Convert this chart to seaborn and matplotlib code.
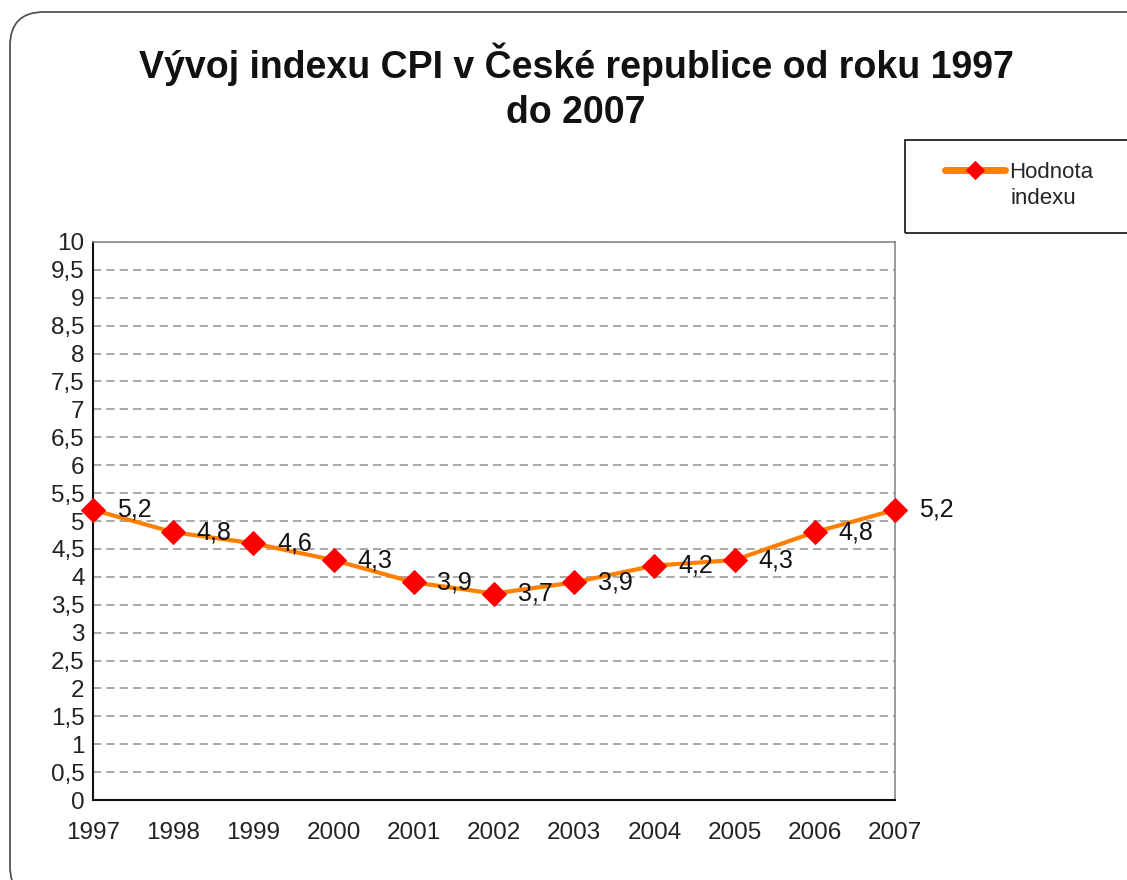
import numpy as np
import pandas as pd
import matplotlib
matplotlib.use('Agg')
import matplotlib.pyplot as plt
from matplotlib.patches import FancyBboxPatch, Rectangle
from matplotlib.ticker import FuncFormatter
import seaborn as sns

# data
years = [1997, 1998, 1999, 2000, 2001, 2002, 2003, 2004, 2005, 2006, 2007]
cpi = [5.2, 4.8, 4.6, 4.3, 3.9, 3.7, 3.9, 4.2, 4.3, 4.8, 5.2]
series_name = 'Hodnota'
series_name2 = 'indexu'
title = 'Vývoj indexu CPI v České republice od roku 1997\ndo 2007'

df = pd.DataFrame({'rok': years, 'cpi': cpi})

sns.set_style('white')
plt.rcParams['font.family'] = ['Liberation Sans', 'DejaVu Sans']

fig = plt.figure(figsize=(11.27, 8.8), dpi=100)
ax = fig.add_axes([93 / 1127, 1 - 800 / 880, (895 - 93) / 1127, (800 - 242) / 880])

# rounded chart frame
frame = FancyBboxPatch((10 / 1127, -20 / 880), 1.2, (880 - 12 + 20) / 880,
                       boxstyle='round,pad=0,rounding_size=0.03',
                       transform=fig.transFigure, fill=False,
                       edgecolor='#555555', linewidth=1.3, mutation_aspect=1127 / 880)
fig.patches.append(frame)

sns.lineplot(data=df, x='rok', y='cpi', ax=ax, color='#FF8000', linewidth=3,
             marker='D', markersize=12, markerfacecolor='#FF0000',
             markeredgecolor='#FF0000', clip_on=False, zorder=5,
             label=series_name, legend=False)

for x, y in zip(years, cpi):
    ax.annotate(f'{y:.1f}'.replace('.', ','), (x, y), xytext=(17, 0),
                textcoords='offset points', ha='left', va='center',
                fontsize=18, color='#111111', zorder=6)

ax.set_xlim(years[0], years[-1])
ax.set_ylim(0, 10)
ax.set_xticks(years)
ax.set_yticks(np.arange(0, 10.01, 0.5))
ax.yaxis.set_major_formatter(FuncFormatter(lambda v, p: f'{v:g}'.replace('.', ',')))
ax.tick_params(axis='y', direction='inout', length=8, width=1.2, labelsize=17.5, pad=2, colors='black')
ax.tick_params(axis='x', direction='out', length=6, width=1.2, labelsize=17.5, pad=10, colors='black')
for t in ax.get_yticklabels() + ax.get_xticklabels():
    t.set_color('#222222')

ax.yaxis.grid(True, linestyle=(0, (5, 3)), color='#9a9a9a', linewidth=1.2)
ax.set_axisbelow(True)
ax.set_xlabel('')
ax.set_ylabel('')
for side in ['left', 'bottom']:
    ax.spines[side].set_color('#111111')
    ax.spines[side].set_linewidth(1.5)
for side in ['top', 'right']:
    ax.spines[side].set_color('#8a8a8a')
    ax.spines[side].set_linewidth(1.2)

fig.text(576 / 1127, 1 - 43 / 880, title, ha='center', va='top',
         fontsize=27, fontweight='bold', linespacing=1.3, color='#111111')

# legend box
fig.patches.append(Rectangle((905 / 1127, 1 - 233 / 880), 0.3, 93 / 880,
                             transform=fig.transFigure, fill=False,
                             edgecolor='#222222', linewidth=1.3))
handles, labels = ax.get_legend_handles_labels()
leg = ax.legend(handles, labels, loc='center left',
                bbox_to_anchor=(936 / 1127, 1 - 172 / 880),
                bbox_transform=fig.transFigure, frameon=False, fontsize=16,
                handlelength=2.7, handletextpad=0.2, borderaxespad=0)
for h in leg.legend_handles:
    h.set_markersize(9)
    h.set_linewidth(5)
fig.text(1010 / 1127, 1 - 198 / 880, series_name2, ha='left', va='center',
         fontsize=16, color='#222222')

fig.savefig('out.png', dpi=100)
